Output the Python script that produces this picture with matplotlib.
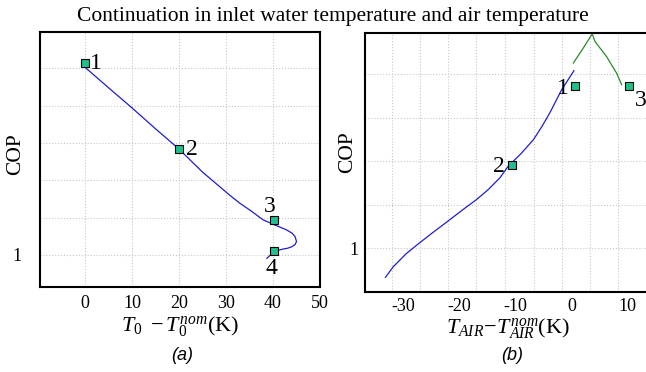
import matplotlib
matplotlib.use('Agg')
import matplotlib.pyplot as plt
from matplotlib.ticker import FixedLocator, NullFormatter

plt.rcParams['font.family'] = ['Liberation Serif', 'DejaVu Serif']
plt.rcParams['mathtext.fontset'] = 'custom'
plt.rcParams['mathtext.rm'] = 'Liberation Serif'
plt.rcParams['mathtext.it'] = 'Liberation Serif:italic'
plt.rcParams['axes.unicode_minus'] = False

# (a) continuation in inlet water temperature
a_x = [-0.3, 5, 10, 15, 19.8, 25, 30.8, 33.0, 35.1, 37.9, 40.1, 42.9, 44.1, 44.7, 45.0, 44.7, 44.0, 43.1, 42.2, 40.3, 38.7]
a_y = [3.53, 3.24, 2.97, 2.69, 2.43, 2.11, 1.80, 1.69, 1.60, 1.47, 1.41, 1.335, 1.29, 1.245, 1.18, 1.14, 1.11, 1.09, 1.08, 1.05, 0.955]
a_pts_x = [0, 20, 40.3, 40.3]
a_pts_y = [3.576, 2.42, 1.473, 1.05]
a_pts_lab = ['1', '2', '3', '4']
a_lab_off = [(7.7, -0.9), (9.1, -0.7), (-3.1, 9.6), (-2.4, -12.5)]

# (b) continuation in air temperature
b_x = [-33.2, -31.8, -29.5, -27.0, -24.5, -22.0, -19.5, -16.9, -14.8, -12.8, -11.3, -9.0, -6.8, -5.3, -3.9, -1.8, 0.4]
b_y = [0.668, 0.79, 0.94, 1.07, 1.195, 1.316, 1.44, 1.564, 1.68, 1.81, 1.945, 2.09, 2.25, 2.40, 2.556, 2.82, 3.04]
b2_x = [0.3, 2.07, 3.67, 4.15, 6.24, 8.02, 8.9]
b2_y = [3.128, 3.30, 3.463, 3.375, 3.20, 3.01, 2.88]
b_pts_x = [0.6, -10.7, 10.3]
b_pts_y = [2.87, 1.96, 2.87]
b_pts_lab = ['1', '2', '3']
b_lab_off = [(-8.6, -1.9), (-9.1, -1.2), (8.4, -10.8)]

a_xticks = [0, 10, 20, 30, 40, 50]
b_xticks = [-30, -20, -10, 0, 10]
b_xgrid = [-32.1, -27.1, -22.1, -17.0, -11.9, -6.8, -1.8, 3.3, 8.3]
yticks = [1.0, 1.5, 2.0, 2.5, 3.0, 3.5]

MK = dict(marker='s', ms=6.3, mfc='#1fbf8f', mec='black', mew=0.8, ls='none', zorder=5)
BLUE = '#1e1ecf'

fig = plt.figure(figsize=(6.46, 3.72), dpi=100)
axa = fig.add_axes([40/646, 1-286.7/372, 280/646, 255/372])
axb = fig.add_axes([365/646, 1-292/372, 285/646, 259.3/372])

def style(ax):
    for s in ax.spines.values():
        s.set_linewidth(1.5)
    ax.grid(True, which='both', color='#c8c8c8', ls=':', lw=0.8)
    ax.set_axisbelow(True)
    ax.tick_params(which='both', length=0, labelsize=13)
    ax.yaxis.set_major_locator(FixedLocator(yticks))
    ax.set_yticklabels(['1'] + [''] * (len(yticks) - 1))

# panel a
style(axa)
axa.plot(a_x, a_y, color=BLUE, lw=0.9)
axa.plot(a_pts_x, a_pts_y, **MK)
for x, y, t, o in zip(a_pts_x, a_pts_y, a_pts_lab, a_lab_off):
    axa.annotate(t, (x, y), xytext=o, textcoords='offset points', ha='center', va='center', fontsize=17)
axa.set_xlim(-9.57, 50)
axa.set_ylim(0.575, 3.99)
axa.set_xticks(a_xticks)
axa.tick_params(axis='x', pad=6)
axa.tick_params(axis='y', pad=13)
axa.set_ylabel('COP', fontsize=15.5)
axa.yaxis.set_label_coords(-0.054, 0.52)
axa.set_xlabel(r'$T_0\ - T_0^{nom}$(K)', fontsize=16, labelpad=2)

# panel b
style(axb)
axb.grid(False, which='major', axis='x')
axb.plot(b_x, b_y, color=BLUE, lw=0.9)
axb.plot(b2_x, b2_y, color='#2a8a2a', lw=0.9)
axb.plot(b_pts_x, b_pts_y, **MK)
for x, y, t, o in zip(b_pts_x, b_pts_y, b_pts_lab, b_lab_off):
    axb.annotate(t, (x, y), xytext=o, textcoords='offset points', ha='center', va='center', fontsize=17, annotation_clip=False)
axb.set_xlim(-36.84, 13.96)
axb.set_ylim(0.5, 3.476)
axb.set_xticks(b_xticks)
axb.xaxis.set_minor_locator(FixedLocator(b_xgrid))
axb.xaxis.set_minor_formatter(NullFormatter())
axb.tick_params(axis='x', pad=4)
axb.tick_params(axis='y', pad=5)
axb.set_ylabel('COP', fontsize=15.5)
axb.yaxis.set_label_coords(-0.028, 0.54)
axb.set_xlabel(r'$T_{AIR}\!-\!T_{AIR}^{nom}$(K)', fontsize=16, labelpad=2)

fig.text(333/646, 1-16/372, 'Continuation in inlet water temperature and air temperature',
         ha='center', va='center', fontsize=15.5)
fig.text(182/646, 1-355/372, '(a)', ha='center', va='center', fontsize=13,
         family='Liberation Sans', style='italic')
fig.text(512/646, 1-355/372, '(b)', ha='center', va='center', fontsize=13,
         family='Liberation Sans', style='italic')

fig.savefig('out.png', dpi=100)
